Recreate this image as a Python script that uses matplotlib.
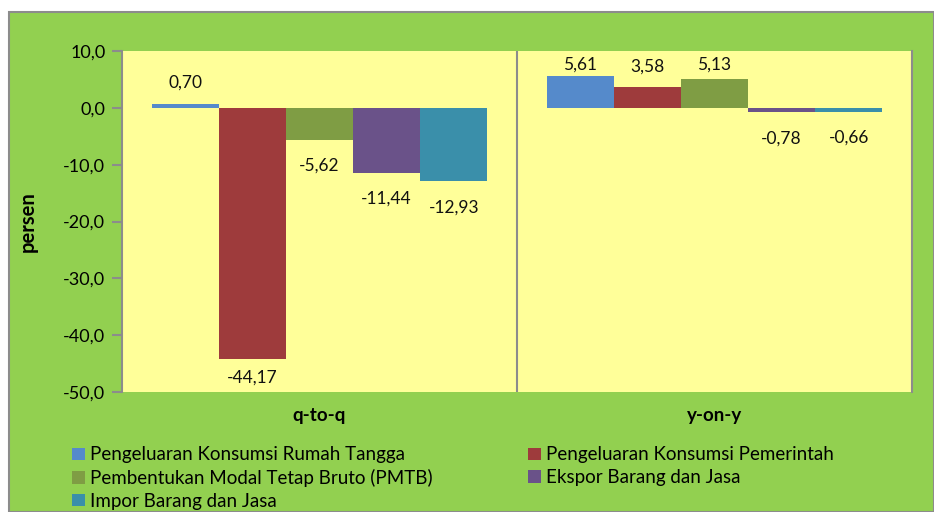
import matplotlib.pyplot as plt
import numpy as np
from matplotlib.patches import Rectangle, Patch

plt.rcParams['font.family'] = ['Lato', 'DejaVu Sans']

# Data
kategori = ["q-to-q", "y-on-y"]
seri = ["Pengeluaran Konsumsi Rumah Tangga",
        "Pengeluaran Konsumsi Pemerintah",
        "Pembentukan Modal Tetap Bruto (PMTB)",
        "Ekspor Barang dan Jasa",
        "Impor Barang dan Jasa"]
rumah_tangga = [0.70, 5.61]
pemerintah = [-44.17, 3.58]
pmtb = [-5.62, 5.13]
ekspor = [-11.44, -0.78]
impor = [-12.93, -0.66]
warna = ["#558ACB", "#9E3B3C", "#7F9D44", "#6A5289", "#3A8FAA"]
yticks = [10, 0, -10, -20, -30, -40, -50]

nilai = [rumah_tangga, pemerintah, pmtb, ekspor, impor]

fig = plt.figure(figsize=(9.34, 5.12), dpi=100, facecolor="white")
# latar hijau
fig.patches.append(Rectangle((9/934, 0), 925/934, 500/512, transform=fig.transFigure,
                             facecolor="#92D050", edgecolor="#8C8C8C", linewidth=1.5, zorder=-5))

ax = fig.add_axes([122/934, 1 - 392/512, 790/934, 341/512])
ax.set_facecolor("#FFFF99")

w = 0.17
x = np.arange(len(kategori))
for j, (vals, c) in enumerate(zip(nilai, warna)):
    pos = x + (j - 2) * w
    ax.bar(pos, vals, width=w, color=c, label=seri[j], zorder=2)
    for p, v in zip(pos, vals):
        if v >= 0:
            ty = min(v + 3.7, 7.6)
        else:
            ty = max(v - 4.6, -47.5)
        ax.text(p, ty, f"{v:.2f}".replace(".", ","), ha="center", va="center",
                fontsize=12.5, color="#111111")

ax.set_xlim(-0.5, 1.5)
ax.set_ylim(-50, 10)
ax.set_yticks(yticks)
ax.set_yticklabels([f"{t:.1f}".replace(".", ",") for t in yticks], fontsize=13)
ax.tick_params(axis="y", direction="out", length=7, color="#8C8C8C", width=1.5, pad=5)
ax.set_xticks(x)
ax.set_xticklabels(kategori, fontsize=13.5, fontweight="bold")
ax.tick_params(axis="x", length=0, pad=11)
ax.axvline(0.5, color="#8C8C8C", linewidth=1.5, zorder=1)

for s in ["top", "bottom"]:
    ax.spines[s].set_visible(False)
for s in ["left", "right"]:
    ax.spines[s].set_color("#8C8C8C")
    ax.spines[s].set_linewidth(1.5)

ax.set_ylabel("persen", fontsize=14.5, fontweight="bold", labelpad=18)

urutan = [0, 2, 4, 1, 3]
handles = [Patch(facecolor=warna[i], label=seri[i]) for i in urutan]
fig.legend(handles=handles, ncol=2, loc="upper left", bbox_to_anchor=(63/934, 1 - 437/512),
           frameon=False, fontsize=13.5, handlelength=0.65, handleheight=0.65,
           handletextpad=0.3, columnspacing=5.1, labelspacing=0.3, borderpad=0)

fig.savefig("out.png", dpi=100, facecolor="white")
